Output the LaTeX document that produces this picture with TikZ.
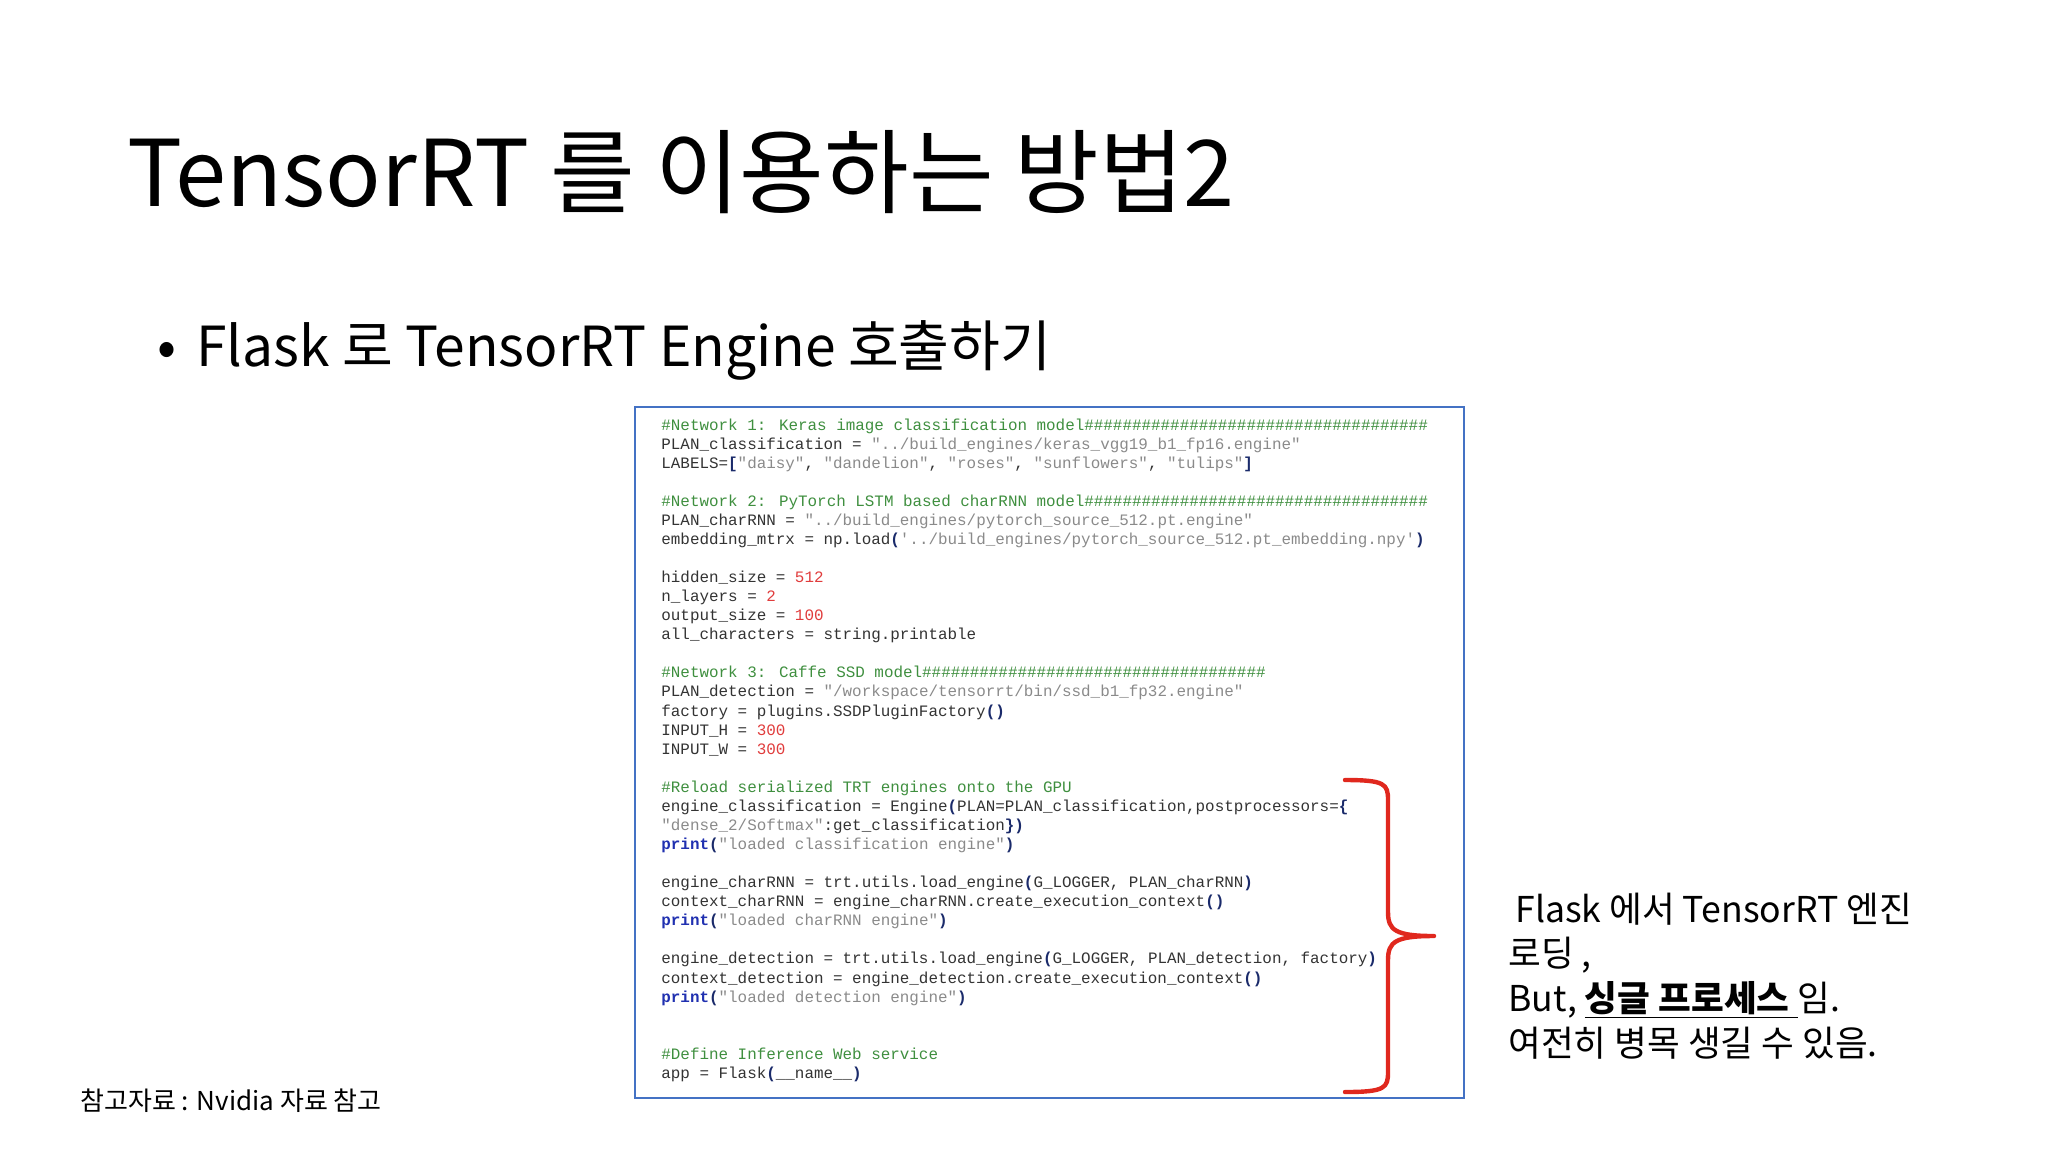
\documentclass[tikz,border=0pt]{standalone}
\usepackage{fontspec}
\setmainfont{Noto Sans CJK KR}
\newfontfamily\codefont{Liberation Mono}
\definecolor{cmt}{HTML}{3F8F3F}
\definecolor{str}{HTML}{8A8A8A}
\definecolor{num}{HTML}{E03C3C}
\definecolor{kw}{HTML}{2030B0}
\definecolor{par}{HTML}{1A2A6A}
\definecolor{txt}{HTML}{333333}
\definecolor{boxc}{HTML}{4472C4}
\definecolor{brc}{HTML}{E0281E}
\newcommand\Cm[1]{\textcolor{cmt}{#1}}
\newcommand\St[1]{\textcolor{str}{#1}}
\newcommand\Nm[1]{\textcolor{num}{#1}}
\newcommand\Kw[1]{\textcolor{kw}{\bfseries #1}}
\newcommand\Pa[1]{\textcolor{par}{\bfseries #1}}
\tikzset{
  codeline/.style={anchor=base west, inner sep=0pt, font=\codefont\fontsize{7.95}{9.5}\selectfont, text=txt},
  sidetext/.style={anchor=base west, inner sep=0pt, font=\fontsize{17.8}{22}\selectfont},
}
\begin{document}
\begin{tikzpicture}[x=0.5pt,y=-0.5pt]
\useasboundingbox (0,0) rectangle (2048,1152);
\node[anchor=base west,inner sep=0pt,font=\fontsize{46}{56}\selectfont] (title) at (127,206) {TensorRT 를 이용하는 방법2};
\node[anchor=base west,inner sep=0pt,font=\fontsize{28}{34}\selectfont] (bul) at (157,366) {•};
\node[anchor=base west,inner sep=0pt,font=\fontsize{27.6}{34}\selectfont] (sub) at (196,366) {Flask 로 TensorRT Engine 호출하기};
\draw[boxc,line width=1pt] (635,407) rectangle (1464,1098);
\def\ls{19.07}
\def\yz{430}
\foreach \i/\t in {
0/{\Cm{\#Network 1: Keras image classification model\#\#\#\#\#\#\#\#\#\#\#\#\#\#\#\#\#\#\#\#\#\#\#\#\#\#\#\#\#\#\#\#\#\#\#\#}},
1/{PLAN\_classification = \St{"../build\_engines/keras\_vgg19\_b1\_fp16.engine"}},
2/{LABELS=\Pa{[}\St{"daisy"}, \St{"dandelion"}, \St{"roses"}, \St{"sunflowers"}, \St{"tulips"}\Pa{]}},
4/{\Cm{\#Network 2: PyTorch LSTM based charRNN model\#\#\#\#\#\#\#\#\#\#\#\#\#\#\#\#\#\#\#\#\#\#\#\#\#\#\#\#\#\#\#\#\#\#\#\#}},
5/{PLAN\_charRNN = \St{"../build\_engines/pytorch\_source\_512.pt.engine"}},
6/{embedding\_mtrx = np.load\Pa{(}\St{\char39../build\_engines/pytorch\_source\_512.pt\_embedding.npy\char39}\Pa{)}},
8/{hidden\_size = \Nm{512}},
9/{n\_layers = \Nm{2}},
10/{output\_size = \Nm{100}},
11/{all\_characters = string.printable},
13/{\Cm{\#Network 3: Caffe SSD model\#\#\#\#\#\#\#\#\#\#\#\#\#\#\#\#\#\#\#\#\#\#\#\#\#\#\#\#\#\#\#\#\#\#\#\#}},
14/{PLAN\_detection = \St{"/workspace/tensorrt/bin/ssd\_b1\_fp32.engine"}},
15/{factory = plugins.SSDPluginFactory\Pa{()}},
16/{INPUT\_H = \Nm{300}},
17/{INPUT\_W = \Nm{300}},
19/{\Cm{\#Reload serialized TRT engines onto the GPU}},
20/{engine\_classification = Engine\Pa{(}PLAN=PLAN\_classification,postprocessors=\Pa{\{}},
21/{\St{"dense\_2/Softmax"}:get\_classification\Pa{\})}},
22/{\Kw{print}\Pa{(}\St{"loaded classification engine"}\Pa{)}},
24/{engine\_charRNN = trt.utils.load\_engine\Pa{(}G\_LOGGER, PLAN\_charRNN\Pa{)}},
25/{context\_charRNN = engine\_charRNN.create\_execution\_context\Pa{()}},
26/{\Kw{print}\Pa{(}\St{"loaded charRNN engine"}\Pa{)}},
28/{engine\_detection = trt.utils.load\_engine\Pa{(}G\_LOGGER, PLAN\_detection, factory\Pa{)}},
29/{context\_detection = engine\_detection.create\_execution\_context\Pa{()}},
30/{\Kw{print}\Pa{(}\St{"loaded detection engine"}\Pa{)}},
33/{\Cm{\#Define Inference Web service}},
34/{app = Flask\Pa{(}\_\_name\_\_\Pa{)}}}
  \node[codeline] (c\i) at (661,\yz+\i*\ls) {\t};
\coordinate (btop) at (1345,780);
\coordinate (btip) at (1434,936);
\coordinate (bbot) at (1345,1092);
\draw[brc,line width=2.2pt,line cap=round,line join=round]
  (btop) .. controls (1385,780) and (1388,784) .. (1388,800)
  -- (1388,912) .. controls (1388,930) and (1395,936) .. (btip)
  (btip) .. controls (1395,936) and (1388,942) .. (1388,960)
  -- (1388,1072) .. controls (1388,1088) and (1385,1092) .. (bbot);
\node[sidetext] (r1) at (1515,922) {Flask 에서 TensorRT 엔진};
\node[sidetext] (r2) at (1508,966) {로딩 ,};
\node[sidetext] (r3) at (1508,1011) {But, \textbf{\underline{싱글 프로세스 }}임.};
\node[sidetext] (r4) at (1508,1056) {여전히 병목 생길 수 있음.};
\node[anchor=base west,inner sep=0pt,font=\fontsize{13}{16}\selectfont] (foot) at (80,1110) {참고자료 : Nvidia 자료 참고};
\end{tikzpicture}
\end{document}
